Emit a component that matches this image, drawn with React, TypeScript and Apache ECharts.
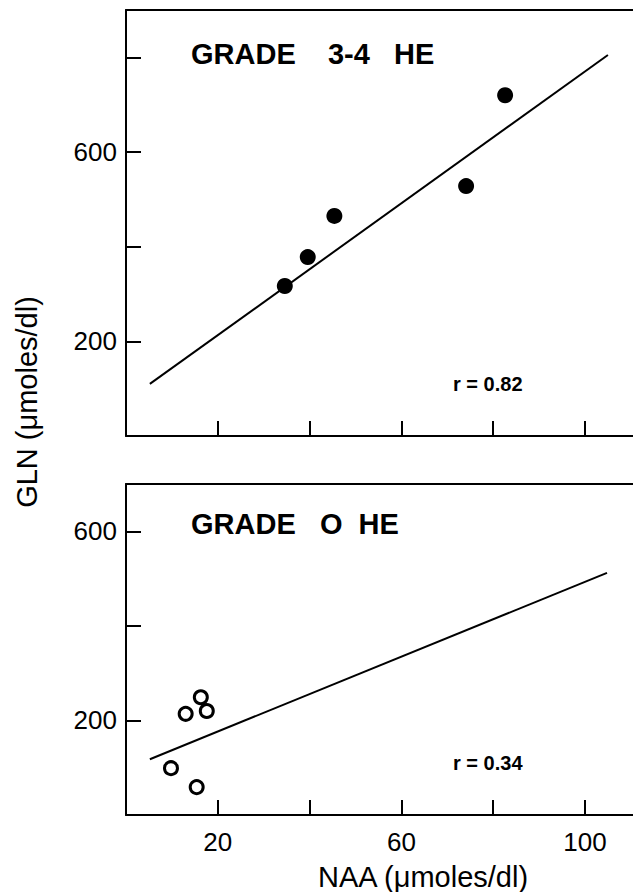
import React, { useEffect, useRef } from "react";
import * as echarts from "echarts";

// Grade 3-4 HE (filled circles)
const topNAA = [34.6, 39.6, 45.4, 74.1, 82.6];
const topGLN = [317, 378, 465, 528, 720];
const topFitNAA = [5.2, 105];
const topFitGLN = [110, 805];

// Grade 0 HE (open circles)
const botNAA = [9.8, 15.4, 13.0, 16.3, 17.6];
const botGLN = [99, 59, 214, 249, 220];
const botFitNAA = [5.2, 104.8];
const botFitGLN = [118, 512];

const xTickLabels = [20, 60, 100];
const yTickLabels = [200, 600];

const FONT = "'Liberation Sans', Arial, Helvetica, sans-serif";

export default function App() {
  const ref = useRef<HTMLDivElement>(null);
  useEffect(() => {
    if (!ref.current) return;
    const chart = echarts.init(ref.current, null, { renderer: "svg" });
    const axisLine = { show: true, onZero: false, lineStyle: { color: "#000", width: 2 } };
    const axisTick = { show: true, inside: true, length: 15, lineStyle: { color: "#000", width: 2 } };
    const mkX = (gridIndex: number, showLabels: boolean) => ({
      type: "value",
      gridIndex,
      min: 0,
      max: 117,
      interval: 20,
      axisLine,
      axisTick,
      splitLine: { show: false },
      axisLabel: {
        show: showLabels,
        margin: 14,
        color: "#000",
        fontFamily: FONT,
        fontSize: 26,
        showMinLabel: false,
        showMaxLabel: false,
        formatter: (v: number) => (xTickLabels.includes(v) ? String(v) : ""),
      },
    });
    const mkTopBorder = (gridIndex: number) => ({
      type: "value",
      gridIndex,
      position: "top",
      min: 0,
      max: 117,
      axisLine,
      axisTick: { show: false },
      axisLabel: { show: false },
      splitLine: { show: false },
    });
    const mkY = (gridIndex: number, max: number) => ({
      type: "value",
      gridIndex,
      position: "left",
      min: 0,
      max,
      interval: 200,
      axisLine,
      axisTick,
      splitLine: { show: false },
      axisLabel: {
        margin: 9,
        color: "#000",
        fontFamily: FONT,
        fontSize: 26,
        formatter: (v: number) => (yTickLabels.includes(v) ? String(v) : ""),
      },
    });
    const toPairs = (xs: number[], ys: number[]) => xs.map((x, i) => [x, ys[i]]);
    chart.setOption({
      animation: false,
      backgroundColor: "#fff",
      grid: [
        { left: 126, top: 10, width: 537, height: 426, show: false, outerBoundsMode: "none", containLabel: false },
        { left: 126, top: 484, width: 537, height: 331, show: false, outerBoundsMode: "none", containLabel: false },
      ],
      xAxis: [mkX(0, false), mkX(1, true), mkTopBorder(0), mkTopBorder(1)],
      yAxis: [mkY(0, 900), mkY(1, 700)],
      series: [
        {
          type: "line",
          xAxisIndex: 0,
          yAxisIndex: 0,
          data: toPairs(topFitNAA, topFitGLN),
          symbol: "none",
          lineStyle: { color: "#000", width: 2 },
        },
        {
          type: "scatter",
          xAxisIndex: 0,
          yAxisIndex: 0,
          data: toPairs(topNAA, topGLN),
          symbol: "circle",
          symbolSize: 16,
          itemStyle: { color: "#000", opacity: 1 },
        },
        {
          type: "line",
          xAxisIndex: 1,
          yAxisIndex: 1,
          data: toPairs(botFitNAA, botFitGLN),
          symbol: "none",
          lineStyle: { color: "#000", width: 2 },
        },
        {
          type: "scatter",
          xAxisIndex: 1,
          yAxisIndex: 1,
          data: toPairs(botNAA, botGLN),
          symbol: "circle",
          symbolSize: 13,
          itemStyle: { color: "#fff", borderColor: "#000", borderWidth: 3, opacity: 1 },
        },
      ],
      graphic: [
        {
          type: "text",
          left: 191,
          top: 39,
          style: { text: "GRADE    3-4   HE", fontFamily: FONT, fontSize: 29, fontWeight: "bold", fill: "#000" },
        },
        {
          type: "text",
          left: 191,
          top: 509,
          style: { text: "GRADE   O  HE", fontFamily: FONT, fontSize: 29, fontWeight: "bold", fill: "#000" },
        },
        {
          type: "text",
          left: 453,
          top: 374,
          style: { text: "r = 0.82", fontFamily: FONT, fontSize: 20, fontWeight: "bold", fill: "#000" },
        },
        {
          type: "text",
          left: 453,
          top: 753,
          style: { text: "r = 0.34", fontFamily: FONT, fontSize: 20, fontWeight: "bold", fill: "#000" },
        },
        {
          type: "text",
          x: 423,
          y: 877,
          style: { text: "NAA (μmoles/dl)", fontFamily: FONT, fontSize: 29, fill: "#000", align: "center", verticalAlign: "middle" },
        },
        {
          type: "text",
          x: 27,
          y: 402,
          rotation: Math.PI / 2,
          style: { text: "GLN (μmoles/dl)", fontFamily: FONT, fontSize: 29, fill: "#000", align: "center", verticalAlign: "middle" },
        },
      ],
    });
    return () => chart.dispose();
  }, []);
  return (
    <div
      ref={ref}
      style={{ position: "fixed", left: 0, top: 0, width: 700, height: 892, background: "#fff" }}
    />
  );
}
